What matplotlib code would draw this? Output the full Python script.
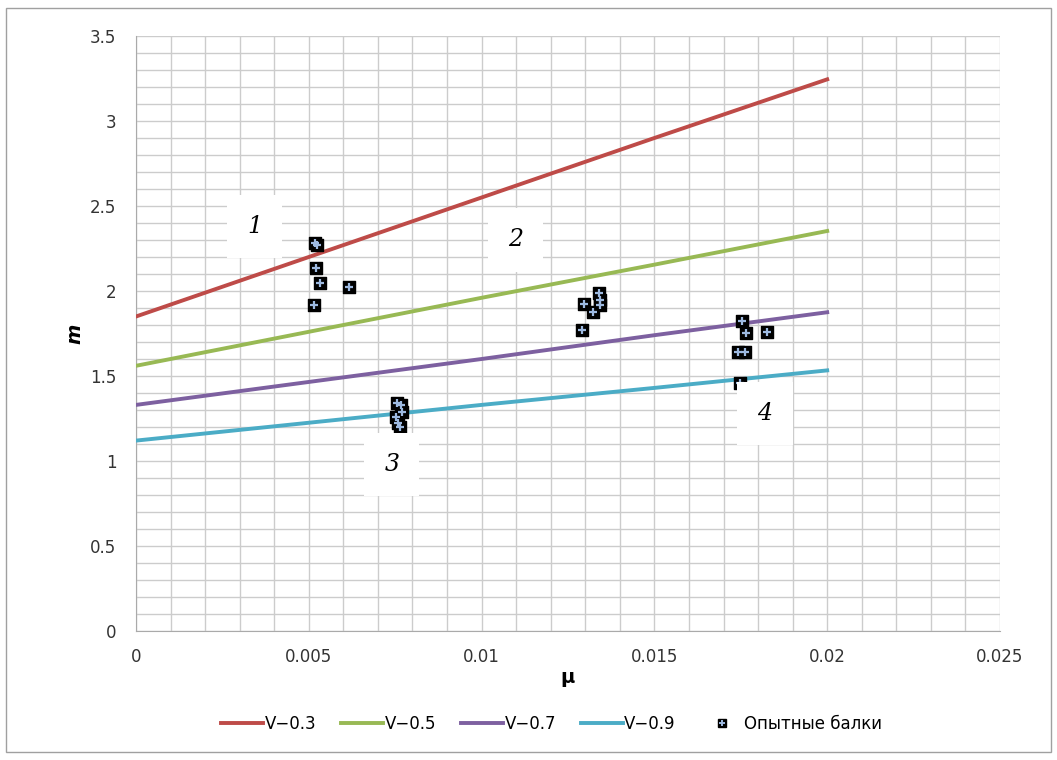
import numpy as np
import matplotlib.pyplot as plt
from matplotlib.ticker import MultipleLocator, FuncFormatter
from matplotlib.lines import Line2D
from matplotlib.patches import Rectangle

# calculated curves m(mu) for different V
mu = [0.0, 0.005, 0.01, 0.015, 0.02]
m_v03 = [1.85, 2.20, 2.55, 2.90, 3.245]
m_v05 = [1.56, 1.76, 1.96, 2.155, 2.353]
m_v07 = [1.33, 1.465, 1.60, 1.74, 1.875]
m_v09 = [1.12, 1.225, 1.33, 1.43, 1.533]
labels = ["V\u22120.3", "V\u22120.5", "V\u22120.7", "V\u22120.9"]
colors = ["#BE4B48", "#98B954", "#7D60A0", "#4BACC6"]

# test beams
exp_mu = [0.00518, 0.00524, 0.00521, 0.00532, 0.00515, 0.00616,
          0.01296, 0.0129, 0.01322, 0.0134, 0.01343, 0.01343,
          0.00755, 0.00768, 0.00771, 0.00752, 0.00758, 0.00764,
          0.01753, 0.01765, 0.01826, 0.01742, 0.01762, 0.01748]
exp_m = [2.285, 2.272, 2.135, 2.047, 1.918, 2.024,
         1.924, 1.771, 1.876, 1.988, 1.947, 1.918,
         1.341, 1.329, 1.288, 1.259, 1.224, 1.200,
         1.824, 1.753, 1.759, 1.641, 1.641, 1.459]
exp_label = "Опытные балки"

zone_labels = ["1", "2", "3", "4"]
zone_mu = [0.00344, 0.01097, 0.0074, 0.0182]
zone_m = [2.38, 2.30, 0.98, 1.28]

fig = plt.figure(figsize=(10.57, 7.6), dpi=100)
ax = fig.add_axes([136 / 1057, 1 - 631 / 760, 864 / 1057, 595 / 760])

series = [m_v03, m_v05, m_v07, m_v09]
handles = []
for ys, c, lab in zip(series, colors, labels):
    h, = ax.plot(mu, ys, color=c, lw=2.8, label=lab, zorder=3)
    handles.append(h)

ax.scatter(exp_mu, exp_m, marker="s", s=70, color="black", zorder=4)
ax.scatter(exp_mu, exp_m, marker="+", s=35, color="#9DB9E0", linewidths=1.6, zorder=5)

for t, x, y in zip(zone_labels, zone_mu, zone_m):
    ax.text(x, y, t, fontsize=17, family="DejaVu Serif", style="italic",
            ha="center", va="center", zorder=6,
            bbox=dict(boxstyle="square,pad=0.85", fc="white", ec="none"))

ax.set_xlim(0, 0.025)
ax.set_ylim(0, 3.5)
ax.xaxis.set_major_locator(MultipleLocator(0.005))
ax.xaxis.set_minor_locator(MultipleLocator(0.001))
ax.yaxis.set_major_locator(MultipleLocator(0.5))
ax.yaxis.set_minor_locator(MultipleLocator(0.1))
ax.xaxis.set_major_formatter(FuncFormatter(lambda v, p: f"{v:.3f}".rstrip("0").rstrip(".")))
ax.yaxis.set_major_formatter(FuncFormatter(lambda v, p: f"{v:.1f}".rstrip("0").rstrip(".")))
ax.grid(which="both", color="#CCCCCC", lw=1.0)
ax.set_axisbelow(True)
ax.tick_params(which="both", length=0, labelsize=12, colors="#333333")
ax.tick_params(axis="x", pad=12)
ax.tick_params(axis="y", pad=14)
for s in ["top", "right"]:
    ax.spines[s].set_visible(False)
for s in ["left", "bottom"]:
    ax.spines[s].set_color("#AAAAAA")

ax.set_xlabel("μ", fontsize=14, fontweight="bold", labelpad=2)
ax.set_ylabel("m", fontsize=14, fontweight="bold", style="italic", labelpad=4)

exp_handle = (Line2D([], [], marker="s", ls="", color="black", ms=6),
              Line2D([], [], marker="+", ls="", color="#9DB9E0", ms=5, mew=1.4))
fig.legend(handles + [exp_handle], labels + [exp_label], loc="center",
           bbox_to_anchor=(0.522, 1 - 724 / 760), ncol=5, frameon=False,
           fontsize=12, handlelength=2.5, handletextpad=0.1, columnspacing=1.5)

fig.patches.append(Rectangle((6 / 1057, 8 / 760), 1045 / 1057, 744 / 760,
                             transform=fig.transFigure, fill=False,
                             ec="#A0A0A0", lw=1))

fig.savefig("out.png", dpi=100)
